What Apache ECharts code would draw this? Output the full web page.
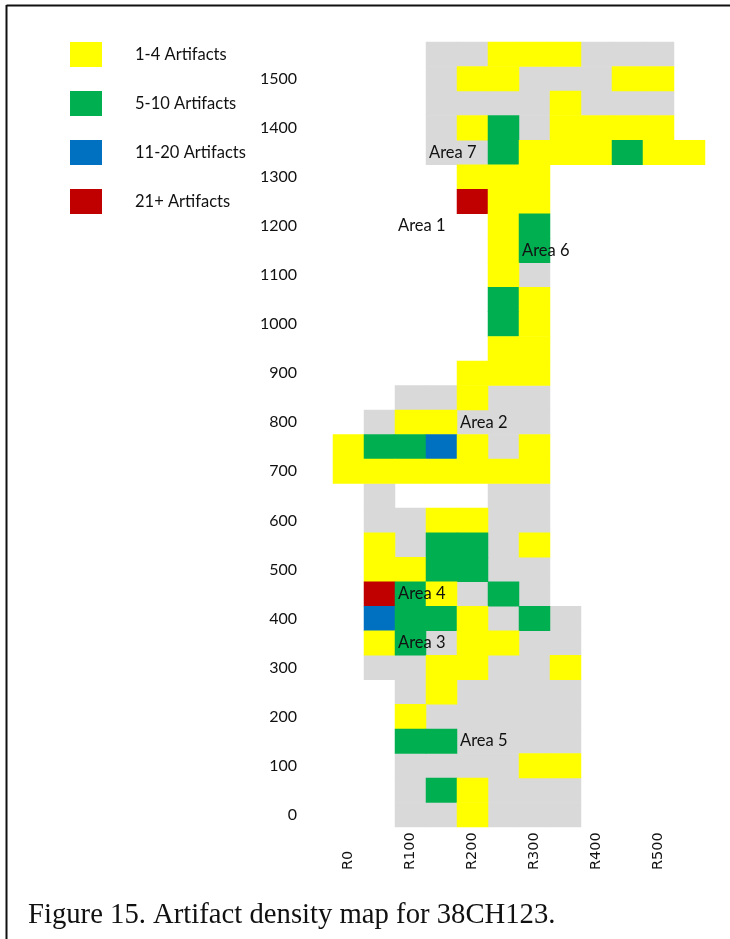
<!DOCTYPE html>
<html>
<head>
<meta charset="utf-8">
<title>Artifact density map</title>
<style>
  html, body { margin: 0; background: #fff; }
  #map { width: 730px; height: 939px; }
</style>
<script src="https://cdn.jsdelivr.net/npm/echarts@6/dist/echarts.min.js"></script>
</head>
<body>
<div id="map"></div>
<script>
var eastings = ['R0', 'R50', 'R100', 'R150', 'R200', 'R250', 'R300', 'R350', 'R400', 'R450', 'R500', 'R550'];
var northings = ['0', '50', '100', '150', '200', '250', '300', '350', '400', '450', '500', '550', '600', '650', '700', '750',
  '800', '850', '900', '950', '1000', '1050', '1100', '1150', '1200', '1250', '1300', '1350', '1400', '1450', '1500', '1550'];

var densityClasses = ['1-4 Artifacts', '5-10 Artifacts', '11-20 Artifacts', '21+ Artifacts'];
var densityColors = ['#ffff00', '#00b050', '#0070c0', '#c00000'];
var surveyedColor = '#d9d9d9';

// one string per row, north to south, one letter per easting
// . not dug, o dug but empty, 1-4 density class
var densityRows = [
  '...oo111ooo.',
  '...o11ooo11.',
  '...oooo1ooo.',
  '...o12o1111.',
  '...oo2111211',
  '....111.....',
  '....411.....',
  '.....12.....',
  '.....12.....',
  '.....1o.....',
  '.....21.....',
  '.....21.....',
  '.....11.....',
  '....111.....',
  '..oo1oo.....',
  '.o11ooo.....',
  '12231o1.....',
  '1111111.....',
  '.o...oo.....',
  '.oo11oo.....',
  '.1o22o1.....',
  '.1122oo.....',
  '.421o2o.....',
  '.3221o2o....',
  '.12o11oo....',
  '.oo11oo1....',
  '..o1oooo....',
  '..1ooooo....',
  '..22oooo....',
  '..oooo11....',
  '..o21ooo....',
  '..oo1ooo....'
];

var areaNames = ['Area 1', 'Area 2', 'Area 3', 'Area 4', 'Area 5', 'Area 6', 'Area 7'];
var areaEastings = ['R100', 'R200', 'R100', 'R100', 'R200', 'R300', 'R150'];
var areaNorthings = ['1200', '800', '350', '450', '150', '1150', '1350'];

var caption = 'Figure 15. Artifact density map for 38CH123.';

var densityCells = [];
var surveyedCells = [];
densityRows.forEach(function (row, r) {
  for (var c = 0; c < row.length; c++) {
    var ch = row.charAt(c);
    var cell = [c, northings.length - 1 - r];
    if (ch === 'o') surveyedCells.push(cell.concat(0));
    else if (ch !== '.') densityCells.push(cell.concat(+ch));
  }
});

var labelFont = 'Lato, "Open Sans", sans-serif';

var myChart = echarts.init(document.getElementById('map'));
var option = {
  animation: false,
  backgroundColor: '#fff',
  title: {
    text: caption,
    left: 23,
    top: 896,
    textStyle: { fontFamily: '"Liberation Serif", serif', fontSize: 28.7, fontWeight: 'normal', color: '#111' }
  },
  grid: { left: 333, top: 42, width: 372, height: 785 },
  xAxis: {
    type: 'category',
    data: eastings,
    axisLine: { show: false },
    axisTick: { show: false },
    splitLine: { show: false },
    axisLabel: {
      interval: 1,
      rotate: 90,
      align: 'left',
      verticalAlign: 'middle',
      margin: 43,
      fontFamily: 'DejaVu Sans',
      fontSize: 14.5,
      color: '#111'
    }
  },
  yAxis: {
    type: 'category',
    data: northings,
    axisLine: { show: false },
    axisTick: { show: false },
    splitLine: { show: false },
    axisLabel: { interval: 1, margin: 36, fontFamily: labelFont, fontSize: 16, color: '#111' }
  },
  visualMap: [
    {
      type: 'piecewise',
      seriesIndex: 0,
      orient: 'vertical',
      inverse: true,
      left: 55,
      top: 27,
      itemWidth: 32,
      itemHeight: 25,
      itemGap: 24,
      textGap: 33,
      itemSymbol: 'rect',
      hoverLink: false,
      selectedMode: false,
      textStyle: { fontFamily: labelFont, fontSize: 16.5, color: '#111' },
      pieces: densityClasses.map(function (name, i) {
        return { value: i + 1, label: name, color: densityColors[i] };
      })
    },
    {
      type: 'piecewise',
      show: false,
      seriesIndex: 1,
      pieces: [{ value: 0, color: surveyedColor }]
    }
  ],
  series: [
    { name: 'Artifacts', type: 'heatmap', data: densityCells, z: 2 },
    { name: 'No artifacts', type: 'heatmap', data: surveyedCells, z: 1 },
    {
      name: 'Areas',
      type: 'scatter',
      symbol: 'rect',
      symbolSize: [31, 24],
      itemStyle: { color: 'rgba(0,0,0,0)', opacity: 1 },
      z: 5,
      label: {
        show: true,
        position: 'insideLeft',
        distance: 3,
        fontFamily: labelFont,
        fontSize: 16.5,
        color: '#111',
        formatter: function (p) { return areaNames[p.dataIndex]; }
      },
      data: areaNames.map(function (name, i) {
        return [eastings.indexOf(areaEastings[i]), northings.indexOf(areaNorthings[i])];
      })
    }
  ],
  graphic: [
    { type: 'line', shape: { x1: 6.5, y1: 5.5, x2: 730, y2: 5.5 }, style: { stroke: '#111', lineWidth: 2 } },
    { type: 'line', shape: { x1: 6.5, y1: 5, x2: 6.5, y2: 939 }, style: { stroke: '#111', lineWidth: 2 } }
  ]
};
myChart.setOption(option);
window.addEventListener('resize', function () {
  myChart.resize();
});
</script>
</body>
</html>
